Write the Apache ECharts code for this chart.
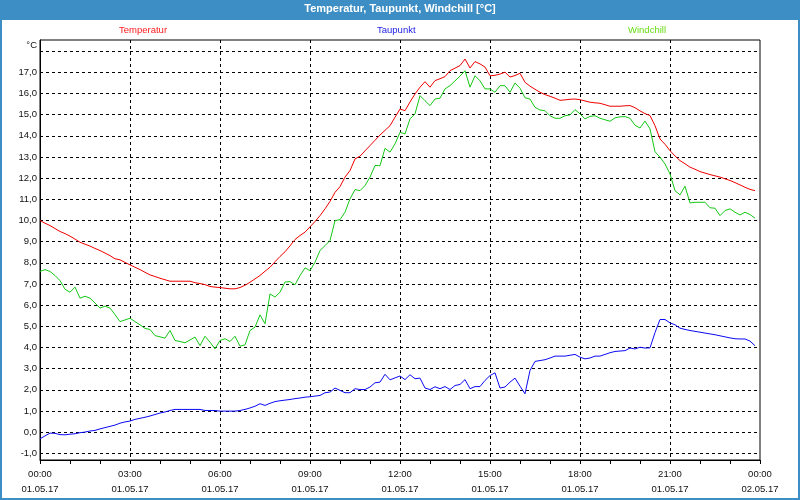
<!DOCTYPE html>
<html><head><meta charset="utf-8">
<script src="https://cdn.jsdelivr.net/npm/echarts@6/dist/echarts.min.js"></script>
<style>html,body{margin:0;padding:0;background:#fff}#c{width:800px;height:500px}</style>
</head><body><div id="c"></div>
<script>
const chartTitle = 'Temperatur, Taupunkt, Windchill [°C]';
const seriesNames = ['Temperatur', 'Taupunkt', 'Windchill'];
const sampleMinutes = 10; // one reading every 10 minutes, starting 00:00

const temperatur = [
  10.00, 9.87, 9.76, 9.62, 9.48, 9.38, 9.26, 9.12, 8.97, 8.88, 8.79, 8.68,
  8.58, 8.46, 8.34, 8.19, 8.14, 8.02, 7.90, 7.79, 7.68, 7.55, 7.43, 7.35,
  7.27, 7.20, 7.13, 7.13, 7.13, 7.13, 7.13, 7.06, 7.02, 6.97, 6.88, 6.85,
  6.83, 6.80, 6.77, 6.77, 6.83, 6.94, 7.08, 7.24, 7.40, 7.60, 7.79, 8.05,
  8.30, 8.52, 8.80, 9.10, 9.29, 9.45, 9.70, 9.95, 10.23, 10.55, 10.90, 11.33,
  11.60, 12.05, 12.36, 12.91, 13.04, 13.29, 13.54, 13.79, 14.04, 14.26, 14.48, 14.88,
  15.27, 15.19, 15.60, 15.98, 16.30, 16.56, 16.30, 16.61, 16.70, 16.80, 17.08, 17.20,
  17.32, 17.63, 17.21, 17.51, 17.40, 17.25, 16.84, 16.86, 16.92, 17.01, 16.78, 16.85,
  16.96, 16.53, 16.35, 16.20, 16.06, 15.95, 15.87, 15.78, 15.68, 15.70, 15.73, 15.74,
  15.71, 15.65, 15.59, 15.56, 15.54, 15.47, 15.40, 15.40, 15.40, 15.42, 15.43, 15.33,
  15.18, 15.05, 14.96, 14.48, 13.85, 13.60, 13.30, 13.05, 12.83, 12.68, 12.52, 12.42,
  12.31, 12.24, 12.17, 12.11, 12.05, 11.97, 11.89, 11.79, 11.68, 11.57, 11.47, 11.41
];
const taupunkt = [
  -0.32, -0.18, -0.05, -0.06, -0.12, -0.13, -0.10, -0.08, -0.03, 0.00, 0.05, 0.08,
  0.15, 0.21, 0.27, 0.33, 0.42, 0.48, 0.52, 0.60, 0.65, 0.70, 0.76, 0.83,
  0.90, 0.95, 1.02, 1.07, 1.07, 1.07, 1.07, 1.07, 1.07, 1.02, 1.02, 1.02,
  0.99, 0.99, 0.99, 0.99, 1.02, 1.07, 1.14, 1.22, 1.34, 1.26, 1.36, 1.44,
  1.48, 1.51, 1.54, 1.58, 1.61, 1.65, 1.67, 1.70, 1.73, 1.86, 1.89, 2.08,
  1.97, 1.86, 1.86, 2.05, 2.01, 2.01, 2.13, 2.33, 2.36, 2.73, 2.47, 2.56,
  2.65, 2.48, 2.71, 2.52, 2.55, 2.08, 2.01, 2.14, 2.05, 2.15, 2.01, 2.20,
  2.25, 2.48, 2.05, 2.15, 2.15, 2.44, 2.67, 2.80, 2.08, 2.13, 2.36, 2.55,
  2.17, 1.81, 2.91, 3.34, 3.38, 3.42, 3.50, 3.59, 3.59, 3.59, 3.63, 3.67,
  3.54, 3.46, 3.50, 3.59, 3.59, 3.67, 3.75, 3.81, 3.83, 3.85, 3.97, 3.93,
  4.01, 3.97, 3.98, 4.70, 5.32, 5.32, 5.16, 5.07, 4.91, 4.85, 4.80, 4.76,
  4.72, 4.68, 4.64, 4.60, 4.55, 4.50, 4.45, 4.41, 4.40, 4.40, 4.30, 4.08
];
const windchill = [
  7.59, 7.68, 7.59, 7.40, 7.16, 6.75, 6.61, 6.85, 6.33, 6.42, 6.33, 6.10,
  5.86, 5.95, 5.86, 5.55, 5.22, 5.30, 5.38, 5.22, 5.07, 4.90, 4.85, 4.56,
  4.50, 4.44, 4.80, 4.33, 4.28, 4.22, 4.35, 4.49, 4.09, 4.53, 4.25, 3.93,
  4.33, 4.41, 4.28, 4.53, 4.06, 4.12, 4.80, 4.96, 5.54, 5.12, 6.53, 6.38,
  6.61, 7.09, 7.11, 6.96, 7.40, 7.76, 7.63, 8.03, 8.58, 8.81, 9.05, 9.99,
  10.04, 10.39, 11.02, 11.46, 11.41, 11.65, 12.05, 12.60, 12.59, 13.41, 13.23, 13.62,
  14.17, 14.09, 14.80, 15.04, 15.90, 15.66, 15.43, 15.74, 15.78, 16.22, 16.37, 16.60,
  16.82, 17.08, 16.30, 16.84, 16.60, 16.22, 16.22, 16.06, 16.37, 16.37, 16.06, 16.50,
  16.25, 15.80, 15.74, 15.35, 15.22, 15.19, 14.95, 14.83, 14.83, 14.95, 14.99, 15.24,
  15.04, 14.80, 14.92, 14.95, 14.83, 14.76, 14.69, 14.85, 14.90, 14.91, 14.83, 14.50,
  14.37, 14.70, 14.33, 13.25, 12.99, 12.67, 12.20, 11.41, 11.21, 11.62, 10.83, 10.86,
  10.86, 10.86, 10.60, 10.58, 10.23, 10.47, 10.55, 10.39, 10.26, 10.39, 10.28, 10.11
];

const xTickTimes = ['00:00', '03:00', '06:00', '09:00', '12:00', '15:00', '18:00', '21:00', '00:00'];
const xTickDates = ['01.05.17', '01.05.17', '01.05.17', '01.05.17', '01.05.17', '01.05.17', '01.05.17', '01.05.17', '02.05.17'];
const yAxisUnit = '°C';

const lineColors = ['#f00000', '#0a0af5', '#14c814'];
const legendColors = ['#ff1a1a', '#1a1ae6', '#66dd11'];
const FONT = "'Liberation Sans', Arial, sans-serif";
const LABEL_COLOR = '#111111';

function toPoints(values) {
  return values.map((v, i) => [i * sampleMinutes / 60, v]);
}

const chart = echarts.init(document.getElementById('c'), null, { renderer: 'canvas' });
const legendLeft = [114, 372, 623];

chart.setOption({
  animation: false,
  backgroundColor: '#ffffff',
  textStyle: { fontFamily: FONT },
  title: {
    text: chartTitle, left: 'center', top: 3, padding: 0,
    textStyle: { color: '#ffffff', fontSize: 11, fontWeight: 'bold', fontFamily: FONT }
  },
  graphic: [
    { type: 'rect', z: 0, silent: true, shape: { x: 0, y: 0, width: 800, height: 20 }, style: { fill: '#3d8ec4' } },
    { type: 'rect', z: 0, silent: true, shape: { x: 1, y: 1, width: 798, height: 498 }, style: { fill: null, stroke: '#3d8ec4', lineWidth: 2 } }
  ],
  legend: seriesNames.map((n, i) => ({
    data: [{ name: n, textStyle: { color: legendColors[i] } }],
    left: legendLeft[i], top: 25, icon: 'none', itemWidth: 0, itemHeight: 0, itemGap: 0,
    selectedMode: false, padding: 0,
    textStyle: { fontSize: 9.5, fontFamily: FONT }
  })),
  grid: {
    left: 40, right: 40, top: 40, bottom: 40,
    show: true, borderColor: '#000', borderWidth: 1, backgroundColor: '#ffffff'
  },
  xAxis: {
    type: 'value', min: 0, max: 24, interval: 3,
    axisLine: { show: true, onZero: false, lineStyle: { color: '#000', width: 1 } },
    axisTick: { show: true, length: 4, lineStyle: { color: '#000' } },
    minorTick: { show: true, splitNumber: 3, length: 4, lineStyle: { color: '#000' } },
    splitLine: { show: true, showMinLine: false, showMaxLine: false, lineStyle: { color: '#000', width: 1, type: [3, 3] } },
    axisLabel: {
      margin: 7, fontSize: 9.5, color: LABEL_COLOR, lineHeight: 15, fontFamily: FONT,
      formatter: function (v) { const i = Math.round(v / 3); return xTickTimes[i] + '\n' + xTickDates[i]; }
    }
  },
  yAxis: {
    type: 'value', min: -1.32, max: 18.53, splitNumber: 20,
    name: yAxisUnit, nameLocation: 'end', nameGap: -5,
    nameTextStyle: { color: LABEL_COLOR, fontSize: 9.5, align: 'right', verticalAlign: 'middle', padding: [0, 3, 0, 0], fontFamily: FONT },
    axisLine: { show: true, onZero: false, lineStyle: { color: '#000', width: 1 } },
    axisTick: { show: false },
    splitLine: { show: true, showMinLine: false, showMaxLine: false, lineStyle: { color: '#000', width: 1, type: [3, 3] } },
    axisLabel: {
      margin: 3, fontSize: 9.5, color: LABEL_COLOR, showMinLabel: false, showMaxLabel: false, fontFamily: FONT,
      formatter: function (v) {
        if (Math.abs(v - Math.round(v)) > 1e-6 || v > 17.5) return '';
        return v.toFixed(1).replace('.', ',');
      }
    }
  },
  series: [
    { name: seriesNames[0], type: 'line', data: toPoints(temperatur), showSymbol: false, color: lineColors[0], lineStyle: { width: 1, color: lineColors[0] }, z: 3 },
    { name: seriesNames[1], type: 'line', data: toPoints(taupunkt), showSymbol: false, color: lineColors[1], lineStyle: { width: 1, color: lineColors[1] }, z: 3 },
    { name: seriesNames[2], type: 'line', data: toPoints(windchill), showSymbol: false, color: lineColors[2], lineStyle: { width: 1, color: lineColors[2] }, z: 3 }
  ]
});
</script>
</body></html>
